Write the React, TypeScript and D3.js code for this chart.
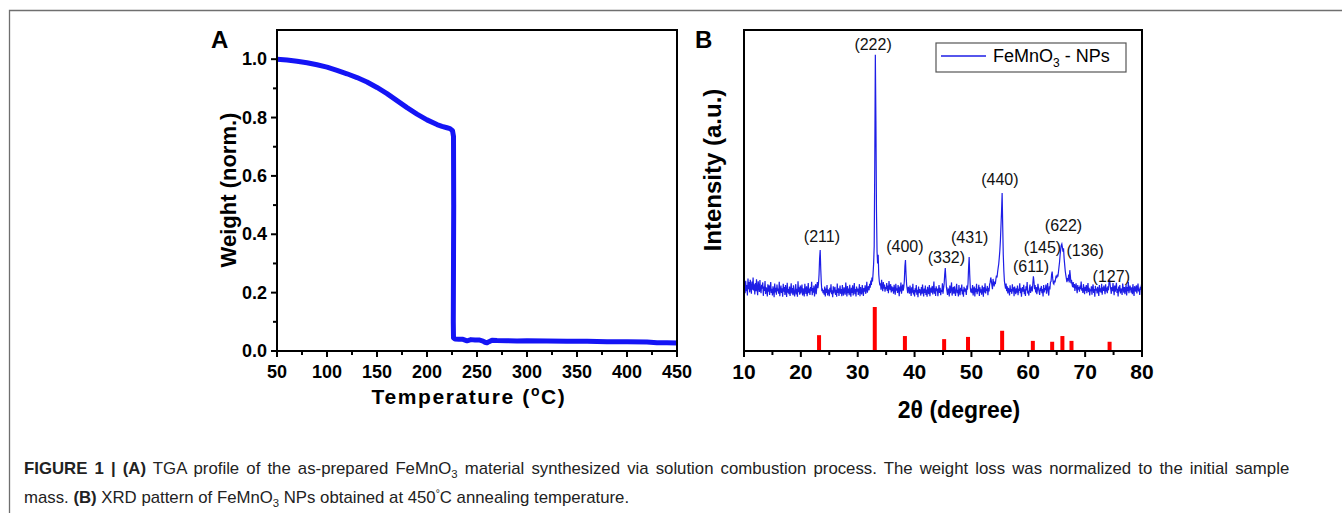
import React, { useLayoutEffect, useRef, useState } from "react"
import * as d3 from "d3"

const W = 1342
const H = 513

// --- panel A: TGA ---
const tgaTemp = [50, 60, 70, 80, 90, 100, 110, 120, 130, 140, 150, 160, 170, 180, 190, 200, 210, 215, 220, 223, 225.5, 226.5, 226.7, 226.5, 226.3, 226.5, 228, 232, 236, 240, 244, 248, 252, 256, 258, 260, 262, 265, 270, 280, 290, 300, 320, 340, 360, 380, 400, 420, 430, 440, 450]
const tgaWeight = [1.0, 0.997, 0.993, 0.988, 0.981, 0.973, 0.962, 0.95, 0.937, 0.922, 0.903, 0.882, 0.858, 0.834, 0.812, 0.792, 0.776, 0.77, 0.765, 0.762, 0.755, 0.735, 0.5, 0.3, 0.1, 0.045, 0.041, 0.04, 0.04, 0.035, 0.039, 0.038, 0.038, 0.034, 0.03, 0.028, 0.032, 0.037, 0.036, 0.035, 0.034, 0.035, 0.034, 0.033, 0.033, 0.032, 0.032, 0.031, 0.028, 0.028, 0.027]
const tgaXTicks = [50, 100, 150, 200, 250, 300, 350, 400, 450]
const tgaYTicks = [0, 0.2, 0.4, 0.6, 0.8, 1.0]

// --- panel B: XRD, measured from 10 deg in 0.1 deg steps ---
const xrdStart = 10
const xrdStep = 0.1
const xrdCounts = [
  215, 232, 198, 241, 205, 226, 190, 248, 212, 236,
  201, 244, 219, 196, 238, 210, 252, 207, 229, 194,
  233, 205, 246, 213, 191, 239, 220, 202, 243, 209,
  198, 227, 214, 235, 189, 221, 206, 240, 195, 218,
  211, 187, 229, 203, 225, 192, 216, 236, 199, 213,
  190, 222, 208, 184, 231, 201, 217, 193, 228, 205,
  214, 196, 237, 188, 209, 224, 199, 215, 186, 230,
  203, 219, 192, 226, 207, 185, 234, 200, 212, 195,
  221, 189, 210, 232, 197, 216, 191, 225, 204, 187,
  208, 229, 194, 213, 186, 239, 202, 218, 193, 224,
  197, 211, 228, 190, 215, 203, 187, 230, 209, 196,
  222, 188, 206, 233, 198, 214, 192, 219, 205, 237,
  191, 216, 200, 224, 187, 210, 229, 195, 218, 236,
  215, 230, 262, 318, 346, 280, 232, 205, 214, 198,
  209, 193, 221, 187, 214, 199, 226, 190, 211, 204,
  188, 217, 201, 229, 195, 208, 184, 222, 197, 213,
  220, 192, 210, 186, 231, 199, 215, 189, 207, 224,
  196, 212, 188, 226, 203, 190, 218, 205, 193, 235,
  209, 187, 223, 198, 214, 191, 227, 202, 186, 217,
  199, 225, 190, 208, 233, 195, 212, 187, 221, 203,
  214, 192, 206, 229, 188, 219, 201, 194, 226, 210,
  189, 216, 203, 225, 196, 211, 237, 200, 215, 222,
  208, 230, 217, 241, 226, 252, 238, 265, 300, 360,
  640, 1015, 790, 480, 340, 300, 330, 262, 238, 225,
  232, 210, 244, 221, 205, 236, 214, 228, 203, 219,
  212, 233, 206, 224, 198, 240, 217, 209, 229, 201,
  222, 205, 218, 196, 227, 211, 193, 230, 207, 215,
  199, 226, 210, 188, 221, 204, 235, 196, 213, 228,
  207, 219, 240, 290, 312, 262, 228, 212, 198, 220,
  213, 196, 224, 205, 189, 218, 200, 230, 194, 209,
  187, 215, 201, 226, 193, 210, 184, 221, 198, 212,
  205, 190, 219, 196, 228, 203, 187, 214, 199, 224,
  192, 211, 186, 220, 204, 195, 226, 188, 209, 217,
  200, 223, 194, 209, 238, 196, 215, 189, 222, 205,
  214, 188, 207, 226, 199, 217, 191, 210, 203, 232,
  196, 215, 230, 262, 284, 250, 219, 205, 192, 213,
  209, 187, 224, 198, 213, 235, 190, 206, 219, 196,
  222, 203, 189, 214, 230, 198, 210, 187, 226, 204,
  191, 217, 205, 228, 194, 211, 186, 220, 203, 215,
  206, 192, 224, 210, 232, 285, 322, 262, 218, 201,
  214, 198, 226, 190, 209, 221, 187, 215, 202, 230,
  195, 212, 204, 227, 189, 218, 200, 211, 193, 224,
  210, 186, 219, 201, 232, 197, 214, 206, 223, 191,
  217, 204, 228, 236, 252, 240, 226, 212, 247, 233,
  221, 238, 229, 246, 258, 252, 270, 285, 298, 320,
  345, 380, 430, 480, 541, 430, 330, 275, 240, 226,
  214, 231, 205, 222, 197, 216, 208, 190, 225, 203,
  212, 196, 229, 204, 218, 188, 221, 207, 195, 215,
  200, 224, 191, 213, 206, 232, 198, 217, 186, 209,
  219, 203, 227, 195, 211, 189, 222, 208, 236, 197,
  206, 190, 215, 228, 199, 213, 221, 204, 232, 256,
  238, 212, 226, 201, 219, 195, 208, 230, 214, 203,
  192, 217, 205, 223, 198, 212, 187, 226, 201, 216,
  209, 228, 196, 214, 233, 203, 190, 222, 211, 236,
  238, 262, 272, 248, 232, 229, 241, 235, 247, 258,
  250, 262, 255, 270, 288, 305, 330, 348, 362, 367,
  355, 340, 352, 318, 296, 274, 260, 248, 236, 250,
  241, 262, 235, 277, 258, 232, 244, 228, 219, 236,
  217, 229, 206, 221, 232, 213, 198, 226, 210, 219,
  203, 224, 212, 238, 207, 216, 199, 229, 211, 195,
  220, 206, 226, 198, 213, 233, 202, 217, 190, 211,
  205, 222, 193, 216, 228, 199, 212, 186, 223, 207,
  214, 197, 220, 208, 189, 226, 203, 215, 200, 230,
  193, 218, 206, 224, 211, 195, 229, 204, 217, 198,
  222, 208, 236, 245, 226, 212, 196, 219, 205, 233,
  210, 191, 224, 203, 218, 234, 199, 213, 187, 221,
  204, 226, 197, 214, 208, 192, 231, 216, 200, 219,
  195, 213, 227, 190, 219, 205, 236, 198, 211, 224,
  212, 200, 218, 195, 229, 207, 189, 222, 214, 203,
  225, 197, 216, 231, 204, 214, 192, 220, 209, 228,
  213,
]
// reference pattern (relative intensity)
const refAngle = [23.2, 33.0, 38.3, 45.2, 49.4, 55.4, 60.8, 64.2, 66.0, 67.6, 74.3]
const refIntensity = [36, 100, 34, 27, 32, 46, 23, 21, 34, 23, 21]
// peak labels
const hklLabels = ["(211)", "(222)", "(400)", "(332)", "(431)", "(440)", "(611)", "(145)", "(622)", "(136)", "(127)"]
const hklAngle = [23.7, 32.7, 38.3, 45.6, 49.7, 55.0, 60.5, 62.5, 66.2, 70.0, 74.6]
const hklCounts = [375, 1031, 340, 300, 370, 570, 270, 335, 410, 325, 238]
const xrdXTicks = [10, 20, 30, 40, 50, 60, 70, 80]

const sans = "'Liberation Sans', Arial, Helvetica, sans-serif"
const CAP_LINE1 = 1266
const CAP_GAP = 2.5

const App = () => {
  const cap1 = useRef<SVGTextElement>(null)
  const [capSx, setCapSx] = useState(0.92)

  // caption line 1 is justified to the full width (narrow font look)
  useLayoutEffect(() => {
    if (!cap1.current) return
    const l1 = cap1.current.getComputedTextLength()
    setCapSx(CAP_LINE1 / l1)
  }, [])

  // panel A
  const ax = d3.scaleLinear().domain([50, 450]).range([277, 677])
  const ay = d3.scaleLinear().domain([0, 1.1]).range([351, 30])
  const tgaPath = d3.line<number>()
    .x((d, i) => ax(tgaTemp[i]))
    .y(d => ay(d))(tgaWeight)

  // panel B
  const bx = d3.scaleLinear().domain([10, 80]).range([744, 1142])
  const by = d3.scaleLinear().domain([0, 1100]).range([351, 30])
  const refY = d3.scaleLinear().domain([0, 100]).range([351, 307])
  const xrdPath = d3.line<number>()
    .x((d, i) => bx(xrdStart + i * xrdStep))
    .y(d => by(d))(xrdCounts)

  const axMinor = d3.range(50, 451, 25)
  const ayMinor = d3.range(0, 1.05, 0.1)
  const bxMinor = d3.range(10, 81, 5)

  return (
    <svg width={W} height={H} style={{ position: "absolute", left: 0, top: 0, background: "#fff" }}>
      {/* page frame */}
      <path d={`M9.5,${H}V10.5H${W}`} fill="none" stroke="#6f6f6f" strokeWidth={1.3} />

      {/* ===== A ===== */}
      <text x={211} y={48} fontFamily={sans} fontWeight="bold" fontSize={24}>A</text>
      <path d={tgaPath ?? ""} fill="none" stroke="#1414f5" strokeWidth={5} strokeLinejoin="round" />
      <rect x={277} y={30} width={400} height={321} fill="none" stroke="#000" strokeWidth={2} />
      {axMinor.map(t => (
        <line key={"axm" + t} x1={ax(t)} x2={ax(t)} y1={351} y2={tgaXTicks.includes(t) ? 357 : 355} stroke="#000" strokeWidth={2} />
      ))}
      {ayMinor.map(t => (
        <line key={"aym" + t} x1={277} x2={Math.round(t * 10) % 2 === 0 ? 271 : 273} y1={ay(t)} y2={ay(t)} stroke="#000" strokeWidth={2} />
      ))}
      {tgaXTicks.map(t => (
        <text key={"axt" + t} x={ax(t)} y={378} textAnchor="middle" fontFamily={sans} fontWeight="bold" fontSize={18}>{t}</text>
      ))}
      {tgaYTicks.map(t => (
        <text key={"ayt" + t} x={267} y={ay(t) + 6} textAnchor="end" fontFamily={sans} fontWeight="bold" fontSize={18}>{t.toFixed(1)}</text>
      ))}
      <text x={469} y={404} textAnchor="middle" fontFamily={sans} fontWeight="bold" fontSize={21} letterSpacing={1.6}>
        Temperature (<tspan fontSize={14} dy={-8}>o</tspan><tspan dy={8}>C)</tspan>
      </text>
      <text transform="translate(236,190) rotate(-90)" textAnchor="middle" fontFamily={sans} fontWeight="bold" fontSize={22}>Weight (norm.)</text>

      {/* ===== B ===== */}
      <text x={695} y={48} fontFamily={sans} fontWeight="bold" fontSize={24}>B</text>
      <path d={xrdPath ?? ""} fill="none" stroke="#1e1ee6" strokeWidth={1.2} />
      {refAngle.map((a, i) => (
        <rect key={"ref" + i} x={bx(a) - 2} y={refY(refIntensity[i])} width={4} height={351 - refY(refIntensity[i])} fill="#f00" />
      ))}
      {hklLabels.map((l, i) => (
        <text key={"hkl" + i} x={bx(hklAngle[i])} y={by(hklCounts[i])} textAnchor="middle" fontFamily={sans} fontSize={16} fill="#111">{l}</text>
      ))}
      <rect x={744} y={30} width={398} height={321} fill="none" stroke="#000" strokeWidth={2} />
      {bxMinor.map(t => (
        <line key={"bxm" + t} x1={bx(t)} x2={bx(t)} y1={351} y2={t % 10 === 0 ? 357 : 355} stroke="#000" strokeWidth={2} />
      ))}
      {xrdXTicks.map(t => (
        <text key={"bxt" + t} x={bx(t)} y={379} textAnchor="middle" fontFamily={sans} fontWeight="bold" fontSize={21}>{t}</text>
      ))}
      <text x={959} y={418} textAnchor="middle" fontFamily={sans} fontWeight="bold" fontSize={23}>2θ (degree)</text>
      <text transform="translate(721,170) rotate(-90)" textAnchor="middle" fontFamily={sans} fontWeight="bold" fontSize={24}>Intensity (a.u.)</text>

      {/* legend */}
      <rect x={936} y={43} width={190} height={29} fill="#fff" stroke="#555" strokeWidth={1.2} />
      <line x1={941} x2={986} y1={56} y2={56} stroke="#1e1ee6" strokeWidth={1.5} />
      <text x={993} y={62} fontFamily={sans} fontSize={18}>
        FeMnO<tspan fontSize={12} dy={5}>3</tspan><tspan dy={-5}> - NPs</tspan>
      </text>

      {/* caption */}
      <g transform={`translate(24,0) scale(${capSx},1)`} fontFamily={sans} fontSize={17} fill="#222" wordSpacing={CAP_GAP}>
        <text ref={cap1} x={0} y={474}>
          <tspan fontWeight="bold">FIGURE 1 | (A)</tspan> TGA profile of the as-prepared FeMnO<tspan fontSize={11.5} dy={4}>3</tspan><tspan dy={-4}> material synthesized via solution combustion process. The weight loss was normalized to the initial sample</tspan>
        </text>
        <text x={0} y={503} wordSpacing={0}>
          mass. <tspan fontWeight="bold">(B)</tspan> XRD pattern of FeMnO<tspan fontSize={11.5} dy={4}>3</tspan><tspan dy={-4}> NPs obtained at 450</tspan><tspan fontSize={10.5} dy={-6}>°</tspan><tspan dy={6}>C annealing temperature.</tspan>
        </text>
      </g>
    </svg>
  )
}

export default App
